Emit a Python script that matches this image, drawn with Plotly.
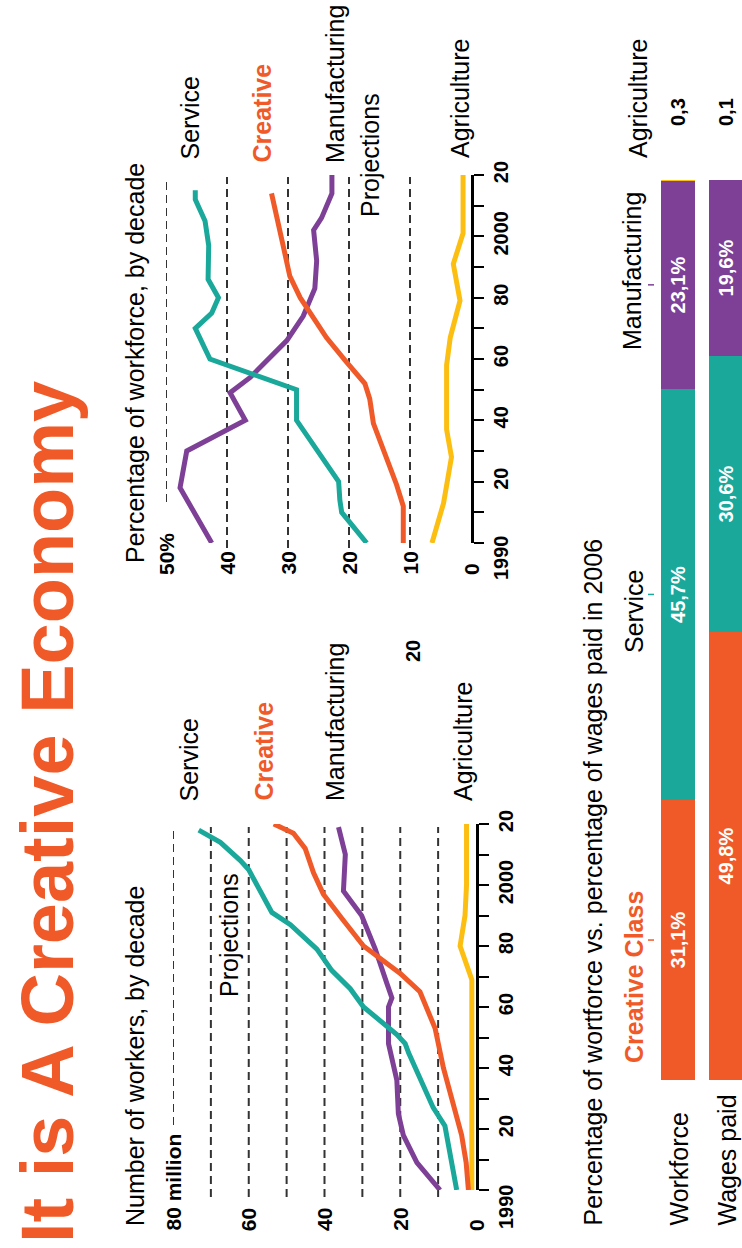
import plotly.graph_objects as go

W, H = 742, 1248

ORANGE = "#F05A28"
TEAL = "#1AA89B"
PURPLE = "#7D4096"
YELLOW = "#FDBE12"
GRID = "#333333"
FONT = "Liberation Sans, Arial, sans-serif"

# ---------------- data ----------------
year_ticks = [1900, 1910, 1920, 1930, 1940, 1950, 1960, 1970, 1980, 1990, 2000, 2010, 2020]
year_labels = ["", "", "20", "", "40", "", "60", "", "80", "", "2000", "", "20"]
first_year_label = "1990"

# Chart 1: number of workers (millions)
w_grid = [10, 20, 30, 40, 50, 60, 70, 80]
w_label_vals = [80, 60, 40, 20, 0]
w_label_txt = ["80 million", "60", "40", "20", "0"]

w_service_yr = [1900, 1919, 1921, 1927, 1935, 1945, 1948, 1951, 1960, 1966, 1972, 1979, 1987, 1991, 2005, 2008, 2014, 2018]
w_service = [5.1, 8.2, 8.2, 11.3, 14.3, 17.8, 18.7, 20.9, 29.7, 33.2, 38.1, 42.0, 49.0, 53.9, 60.0, 62.2, 67.5, 73.2]
w_creative_yr = [1900, 1909, 1918, 1930, 1940, 1953, 1965, 1971, 1975, 1980, 1989, 1997, 2004, 2012, 2017, 2020]
w_creative = [2.0, 2.6, 3.8, 6.4, 8.6, 10.8, 14.8, 20.0, 24.4, 29.7, 35.4, 40.3, 42.9, 45.1, 48.2, 53.4]
w_manuf_yr = [1900, 1909, 1918, 1925, 1936, 1948, 1960, 1963, 1968, 1979, 1990, 1998, 2010, 2019]
w_manuf = [9.5, 15.6, 19.2, 20.5, 20.9, 23.1, 23.1, 22.2, 23.6, 26.6, 30.2, 35.0, 34.5, 36.3]
w_agri_yr = [1900, 1969, 1980, 1990, 2000, 2020]
w_agri = [1.1, 1.1, 4.2, 2.9, 2.5, 2.5]

# Chart 2: percentage of workforce
p_grid = [10, 20, 30, 40, 50]
p_label_vals = [50, 40, 30, 20, 10, 0]
p_label_txt = ["50%", "40", "30", "20", "10", "0"]

p_service_yr = [1900, 1910, 1914, 1920, 1940, 1950, 1960, 1970, 1975, 1980, 1986, 1997, 2005, 2012, 2015]
p_service = [17.1, 21.2, 21.5, 21.7, 28.6, 28.6, 42.8, 45.2, 42.5, 41.4, 43.1, 43.0, 43.6, 45.2, 45.2]
p_creative_yr = [1900, 1912, 1919, 1930, 1939, 1947, 1952, 1959, 1967, 1980, 1987, 1997, 2005, 2014]
p_creative = [11.1, 11.1, 12.2, 14.4, 16.0, 16.6, 17.4, 20.4, 23.7, 28.0, 29.7, 30.8, 31.6, 32.7]
p_manuf_yr = [1900, 1918, 1930, 1940, 1949, 1954, 1966, 1974, 1983, 1992, 2002, 2006, 2014, 2020]
p_manuf = [42.5, 47.7, 46.6, 37.0, 39.5, 36.2, 30.2, 27.5, 25.6, 25.3, 25.8, 24.5, 22.8, 22.8]
p_agri_yr = [1900, 1913, 1928, 1937, 1958, 1967, 1979, 1988, 1991, 2001, 2020]
p_agri = [6.4, 4.5, 3.2, 4.0, 4.0, 3.4, 1.8, 2.6, 2.9, 1.3, 1.3]

# Chart 3: workforce vs wages, 2006
bar_cats = ["Workforce", "Wages paid"]
bar_creative = [31.1, 49.8]
bar_service = [45.7, 30.6]
bar_manuf = [23.1, 19.6]
bar_agri = [0.3, 0.1]


def fmt(v):
    return ("%.1f" % v).replace(".", ",")


def PX(px):
    return px / W


def PY(py):
    return 1 - py / H


fig = go.Figure()

line_style = dict(width=5)
for yr, vals, col in [(w_agri_yr, w_agri, YELLOW), (w_manuf_yr, w_manuf, PURPLE),
                      (w_creative_yr, w_creative, ORANGE), (w_service_yr, w_service, TEAL)]:
    fig.add_trace(go.Scatter(x=vals, y=yr, mode="lines", line=dict(color=col, **line_style),
                             xaxis="x", yaxis="y", hoverinfo="skip"))

for yr, vals, col in [(p_agri_yr, p_agri, YELLOW), (p_manuf_yr, p_manuf, PURPLE),
                      (p_creative_yr, p_creative, ORANGE), (p_service_yr, p_service, TEAL)]:
    fig.add_trace(go.Scatter(x=vals, y=yr, mode="lines", line=dict(color=col, **line_style),
                             xaxis="x2", yaxis="y2", hoverinfo="skip"))

xpos = list(range(len(bar_cats)))
for vals, col, show in [(bar_creative, ORANGE, True), (bar_service, TEAL, True),
                        (bar_manuf, PURPLE, True), (bar_agri, YELLOW, False)]:
    fig.add_trace(go.Bar(x=xpos, y=vals, marker=dict(color=col, line=dict(width=0)),
                         width=0.71, xaxis="x3", yaxis="y3",
                         text=[fmt(v) + "%" for v in vals] if show else None,
                         textposition="inside" if show else "none",
                         insidetextanchor="middle", textangle=-90, constraintext="none",
                         textfont=dict(family=FONT, size=20, color="white", weight="bold"),
                         hoverinfo="skip"))

year_axis = dict(range=[1900, 2020], side="right", showline=True, linecolor="black", linewidth=2.5,
                 ticks="outside", ticklen=10, tickwidth=2, tickcolor="black",
                 tickmode="array", tickvals=year_ticks, ticktext=year_labels, tickangle=-90,
                 tickfont=dict(family=FONT, size=20, color="black", weight="bold"),
                 showgrid=False, zeroline=False, fixedrange=True, automargin=False)
hidden_axis = dict(visible=False, fixedrange=True, automargin=False)

fig.update_layout(
    width=W, height=H, autosize=False, margin=dict(l=0, r=0, t=0, b=0, pad=0, autoexpand=False),
    paper_bgcolor="white", plot_bgcolor="rgba(0,0,0,0)", showlegend=False,
    barmode="stack", bargap=0,
    xaxis=dict(domain=[PX(173), PX(476)], range=[80, 0], **hidden_axis),
    yaxis=dict(domain=[PY(1190), PY(824)], anchor="x", **year_axis),
    xaxis2=dict(domain=[PX(166), PX(471)], range=[50, 0], **hidden_axis),
    yaxis2=dict(domain=[PY(543), PY(175)], anchor="x2", **year_axis),
    xaxis3=dict(domain=[PX(654), 1.0], range=[-0.5, 1.333], **hidden_axis),
    yaxis3=dict(domain=[PY(1080), PY(180)], range=[0, 100], **hidden_axis),
)

shapes = []
for v in w_grid:
    y0 = 1125 if v == 80 else 1197
    shapes.append(dict(type="line", xref="x", yref="paper", x0=v, x1=v, y0=PY(y0), y1=PY(827),
                       line=dict(color=GRID, width=2, dash="8px,5px"), layer="below"))
for v in p_grid:
    y0, y1 = (502, 180) if v == 50 else (548, 177)
    shapes.append(dict(type="line", xref="x2", yref="paper", x0=v, x1=v, y0=PY(y0), y1=PY(y1),
                       line=dict(color=GRID, width=2, dash="8px,5px"), layer="below"))
# small marker ticks next to bar labels (at the workforce segment midpoints)
cum = 0
for v, col in [(bar_creative[0], ORANGE), (bar_service[0], TEAL), (bar_manuf[0], PURPLE)]:
    mid = cum + v / 2
    cum += v
    shapes.append(dict(type="line", xref="paper", yref="y3", x0=PX(648), x1=PX(654), y0=mid, y1=mid,
                       line=dict(color=col, width=1.5)))
fig.update_layout(shapes=shapes)

ann = []


def txt(text, x, y, size=25, color="black", bold=False, xanchor="center", yanchor="middle",
        xref="paper", yref="paper"):
    ann.append(dict(text=text, x=x, y=y, xref=xref, yref=yref, showarrow=False, textangle=-90,
                    xanchor=xanchor, yanchor=yanchor,
                    font=dict(family=FONT, size=size, color=color, weight="bold" if bold else "normal")))


# title
txt("It is A Creative Economy", PX(47), PY(812), size=74, color=ORANGE, bold=True)

# chart 1 texts
txt("Number of workers, by decade", PX(135), PY(1228), yanchor="bottom")
for v, t in zip(w_label_vals, w_label_txt):
    txt(t, v, PY(1233), size=21, bold=True, yanchor="bottom", xref="x")
txt(first_year_label, PX(506), PY(1207), size=20, bold=True)
txt("Service", PX(188), PY(803), yanchor="bottom")
txt("Creative", PX(263), PY(803), color=ORANGE, bold=True, yanchor="bottom")
txt("Manufacturing", PX(335), PY(803), yanchor="bottom")
txt("20", PX(413), PY(651), size=20, bold=True)
txt("Agriculture", PX(463), PY(803), yanchor="bottom")
txt("Projections", PX(229), PY(935))

# chart 2 texts
txt("Percentage of workforce, by decade", PX(135), PY(565), yanchor="bottom")
for v, t in zip(p_label_vals, p_label_txt):
    txt(t, v, PY(577), size=21, bold=True, yanchor="bottom", xref="x2")
txt(first_year_label, PX(501), PY(557), size=20, bold=True)
txt("Service", PX(190), PY(162), yanchor="bottom")
txt("Creative", PX(262), PY(165), color=ORANGE, bold=True, yanchor="bottom")
txt("Manufacturing", PX(335), PY(165), yanchor="bottom")
txt("Projections", PX(370), PY(155))
txt("Agriculture", PX(460), PY(160), yanchor="bottom")

# chart 3 texts
txt("Percentage of wortforce vs. percentage of wages paid in 2006", PX(592), PY(1228), yanchor="bottom")
txt("Creative Class", PX(634), PY(977), color=ORANGE, bold=True)
txt("Service", PX(634), PY(612))
txt("Manufacturing", PX(632), PY(271))
txt("Agriculture", PX(638), PY(160), yanchor="bottom")
for i, (c, a) in enumerate(zip(bar_cats, bar_agri)):
    txt(c, i, PY(1228), yanchor="bottom", xref="x3")
    txt(fmt(a), i, PY(112), size=20, bold=True, xref="x3")

fig.update_layout(annotations=ann)
fig.write_html("out.html", config={"displayModeBar": False, "responsive": False},
               post_script="document.body.style.margin='0';document.documentElement.style.margin='0';")
